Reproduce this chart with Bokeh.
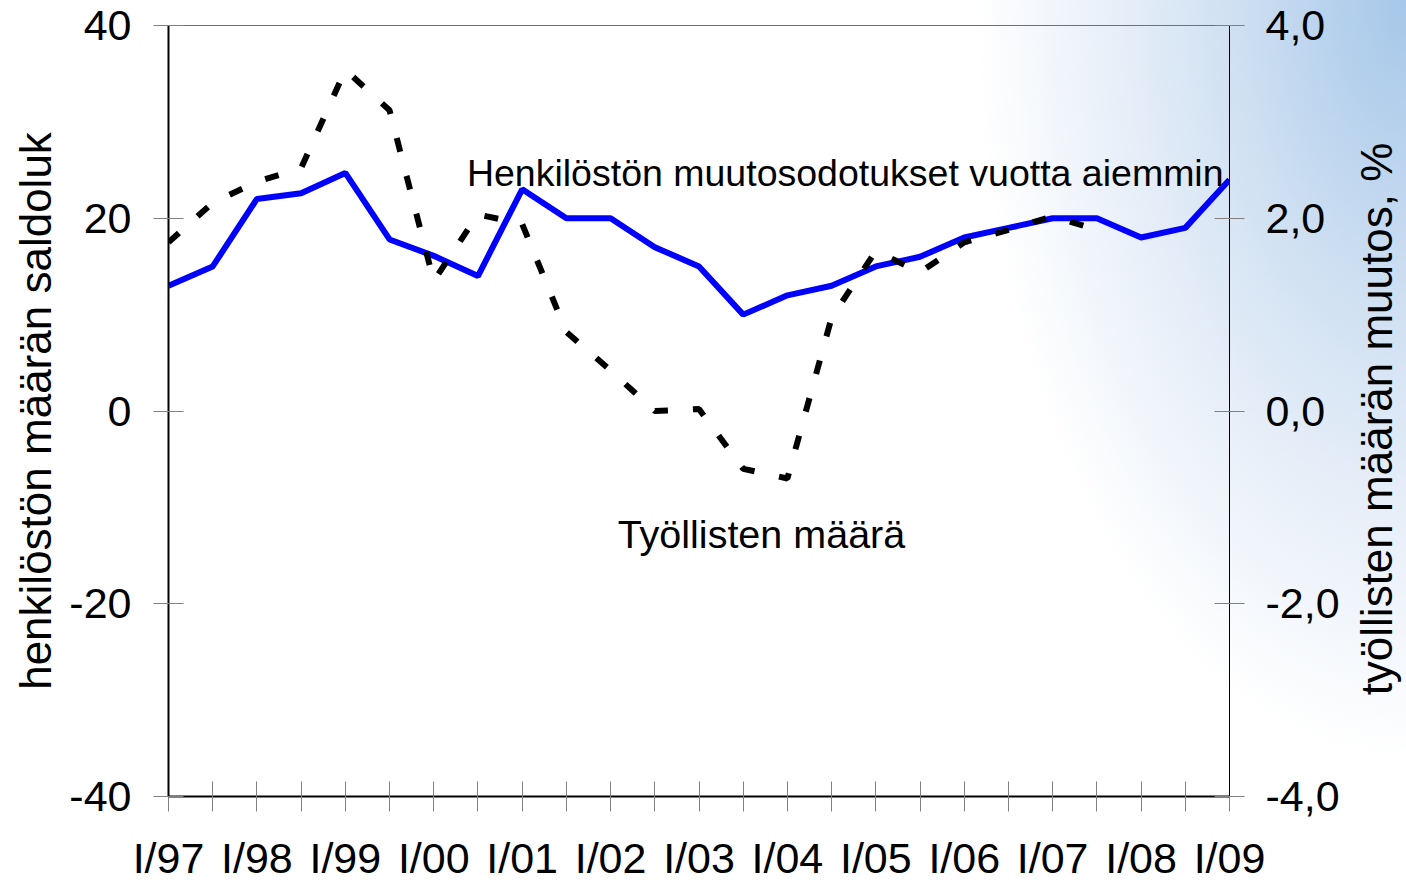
import math
from bokeh.plotting import figure
from bokeh.models import Range1d, LinearAxis, FixedTicker, Label
from bokeh.embed import file_html
from bokeh.resources import INLINE

# ---- data ----
periods = ["I/97", "II/97", "I/98", "II/98", "I/99", "II/99", "I/00", "II/00", "I/01", "II/01",
           "I/02", "II/02", "I/03", "II/03", "I/04", "II/04", "I/05", "II/05", "I/06", "II/06",
           "I/07", "II/07", "I/08", "II/08", "I/09"]
expectations = [13, 15, 22, 22.6, 24.7, 17.8, 16.1, 14, 23, 20,
                 20, 17, 15, 10, 12, 13, 15, 16, 18, 19,
                 20, 20, 18, 19, 24]
employment = [1.75, 2.16, 2.38, 2.52, 3.54, 3.12, 1.35, 2.04, 1.94, 0.82,
              0.42, 0.0, 0.02, -0.6, -0.7, 0.97, 1.66, 1.44, 1.75, 1.88,
              2.02, 1.88]
left_ticks = [-40, -20, 0, 20, 40]
left_tick_labels = ["-40", "-20", "0", "20", "40"]
right_ticks = [-4, -2, 0, 2, 4]
right_tick_labels = ["-4,0", "-2,0", "0,0", "2,0", "4,0"]
left_title = "henkilöstön määrän saldoluk"
right_title = "työllisten määrän muutos, %"
label_expect = "Henkilöstön muutosodotukset vuotta aiemmin"
label_employ = "Työllisten määrä"

x_idx = list(range(len(periods)))
FONT = "Liberation Sans"

p = figure(frame_width=1061, frame_height=771, output_backend="svg", toolbar_location=None,
           x_range=Range1d(0, len(periods) - 1), y_range=Range1d(-40, 40),
           min_border_left=168, min_border_right=177, min_border_top=25, min_border_bottom=88)
p.extra_y_ranges = {"pct": Range1d(-4, 4)}
p.background_fill_alpha = 0
p.border_fill_alpha = 0
p.outline_line_color = "#707070"
p.outline_line_width = 1
p.grid.visible = False
p.styles = {"background": "radial-gradient(ellipse 430px 760px at 1406px 0px, #a6c7e9 0%, #cfe0f2 40%, #e6eef8 66%, #ffffff 100%)"}

# x axis
xa = p.xaxis[0]
xa.ticker = FixedTicker(ticks=x_idx)
xa.major_label_overrides = {i: (lab if lab.startswith("I/") else "") for i, lab in zip(x_idx, periods)}

# left axis
ya = p.yaxis[0]
ya.ticker = FixedTicker(ticks=left_ticks)
ya.major_label_overrides = {t: s for t, s in zip(left_ticks, left_tick_labels)}
ya.axis_label = left_title

# right axis (numbers)
ra = LinearAxis(y_range_name="pct", ticker=FixedTicker(ticks=right_ticks))
ra.major_label_overrides = {t: s for t, s in zip(right_ticks, right_tick_labels)}
p.add_layout(ra, "right")

for ax in [xa, ya, ra]:
    ax.axis_line_color = "black"
    ax.axis_line_width = 2
    ax.major_tick_line_color = "#808080"
    ax.major_tick_line_width = 1
    ax.major_tick_in = 15
    ax.major_tick_out = 15
    ax.minor_tick_line_color = None
    ax.major_label_text_font = FONT
    ax.major_label_text_font_size = "43px"
    ax.major_label_text_color = "black"
    ax.axis_label_text_font = FONT
    ax.axis_label_text_font_size = "44px"
    ax.axis_label_text_font_style = "normal"
    ax.axis_label_text_color = "black"
ra.axis_line_width = 1
xa.major_label_standoff = 22
ya.major_label_standoff = 22
ra.major_label_standoff = 21
ya.axis_label_standoff = 6

# right axis title, reading bottom-to-top like the left one
rt = LinearAxis(y_range_name="pct", ticker=FixedTicker(ticks=[0]))
rt.major_label_overrides = {0: right_title}
rt.major_label_orientation = math.pi / 2
rt.axis_line_color = None
rt.major_tick_line_color = None
rt.minor_tick_line_color = None
rt.major_tick_in = 0
rt.major_tick_out = 0
rt.major_label_standoff = 34
rt.major_label_text_font = FONT
rt.major_label_text_font_size = "44px"
rt.major_label_text_color = "black"
p.add_layout(rt, "right")

p.line(x_idx, expectations, line_color="#0000ff", line_width=6)
p.line(x_idx[:len(employment)], employment, y_range_name="pct",
       line_color="black", line_width=6, line_dash="14 25")

p.add_layout(Label(x=6.75, y=24.7, text=label_expect, text_font=FONT, text_font_size="37.5px",
                   text_color="black", text_baseline="alphabetic"))
p.add_layout(Label(x=10.16, y=-12.8, text=label_employ, text_font=FONT, text_font_size="39.5px",
                   text_color="black", text_baseline="alphabetic"))

open("out.html", "w").write(file_html(p, INLINE))
